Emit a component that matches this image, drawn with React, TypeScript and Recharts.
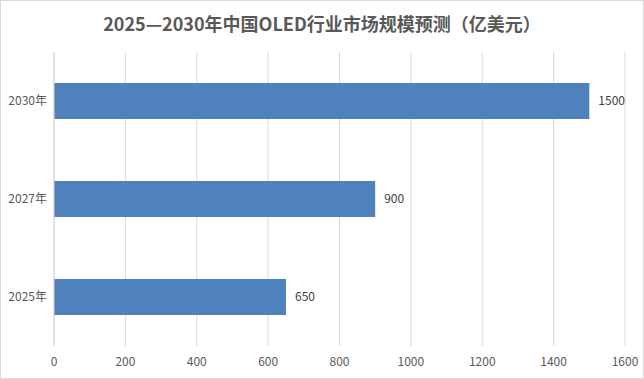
import { BarChart, Bar, XAxis, YAxis, CartesianGrid, LabelList } from 'recharts'

const categories = ['2030年', '2027年', '2025年']
const marketSize = [1500, 900, 650]
const xTicks = [0, 200, 400, 600, 800, 1000, 1200, 1400, 1600]

const data = categories.map((year, i) => ({ year, value: marketSize[i] }))

const font = '"Noto Sans CJK SC", "Noto Sans", sans-serif'

export default function App() {
  return (
    <div
      style={{
        position: 'absolute',
        left: 0,
        top: 0,
        width: 644,
        height: 379,
        boxSizing: 'border-box',
        border: '1px solid #d9d9d9',
        background: '#fff',
        fontFamily: font,
      }}
    >
      <div
        style={{
          position: 'absolute',
          left: 0,
          right: 0,
          top: 8,
          textAlign: 'center',
          fontSize: 18,
          fontWeight: 'bold',
          color: '#595959',
          lineHeight: '28px',
        }}
      >
        2025—2030年中国OLED行业市场规模预测（亿美元）
      </div>
      <div style={{ position: 'absolute', left: -1, top: -1 }}>
        <BarChart
          width={644}
          height={379}
          data={data}
          layout="vertical"
          margin={{ top: 52, right: 19, bottom: 3, left: 0 }}
          barSize={36}
        >
          <CartesianGrid horizontal={false} stroke="#d9d9d9" />
          <XAxis
            type="number"
            domain={[0, 1600]}
            ticks={xTicks}
            axisLine={false}
            tickLine={false}
            height={30}
            tickMargin={5}
            tick={{ fill: '#595959', fontSize: 12, fontFamily: font }}
          />
          <YAxis
            type="category"
            dataKey="year"
            width={54}
            axisLine={{ stroke: '#d9d9d9' }}
            tickLine={false}
            tickMargin={1}
            tick={{ fill: '#595959', fontSize: 12, fontFamily: font }}
          />
          <Bar dataKey="value" fill="#4f81bd" isAnimationActive={false}>
            <LabelList
              dataKey="value"
              position="right"
              offset={9}
              style={{ fill: '#404040', fontSize: 12, fontFamily: font }}
            />
          </Bar>
        </BarChart>
      </div>
    </div>
  )
}
